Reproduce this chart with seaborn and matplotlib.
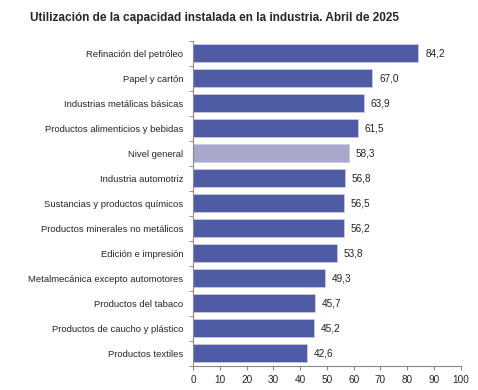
import matplotlib.pyplot as plt
import seaborn as sns
import numpy as np
import pandas as pd

categorias = ["Refinación del petróleo", "Papel y cartón", "Industrias metálicas básicas",
              "Productos alimenticios y bebidas", "Nivel general", "Industria automotriz",
              "Sustancias y productos químicos", "Productos minerales no metálicos",
              "Edición e impresión", "Metalmecánica excepto automotores",
              "Productos del tabaco", "Productos de caucho y plástico", "Productos textiles"]
valores = [84.2, 67.0, 63.9, 61.5, 58.3, 56.8, 56.5, 56.2, 53.8, 49.3, 45.7, 45.2, 42.6]

df = pd.DataFrame({"cat": categorias, "val": valores})
colores = ["#A7A8CB" if c == "Nivel general" else "#4F5BA5" for c in categorias]

sns.set_style("white")
plt.rcParams['font.family'] = ['Liberation Sans', 'DejaVu Sans']

fig = plt.figure(figsize=(4.78, 3.90), dpi=100)
ax = fig.add_axes([0.404, 0.062, 0.560, 0.833])
sns.barplot(data=df, x="val", y="cat", hue="cat", palette=colores, legend=False,
            saturation=1, width=0.72, edgecolor="#C8CADF", linewidth=0.6, ax=ax)

for i, v in enumerate(valores):
    ax.text(v + 2.5, i, f"{v:.1f}".replace(".", ","), va="center", ha="left", fontsize=7.2, color="#222222")

ax.set_xlim(0, 100)
ax.set_ylim(len(categorias) - 0.5, -0.5)
ax.set_xticks(np.arange(0, 101, 10))
ax.set_yticks(np.arange(-0.5, len(categorias), 1), minor=True)
ax.tick_params(axis="y", which="major", length=0, labelsize=6.8, pad=7)
ax.tick_params(axis="y", which="minor", length=3, color="#888888", left=True)
ax.tick_params(axis="x", length=3, color="#888888", labelsize=7.2, bottom=True)
ax.set_xlabel("")
ax.set_ylabel("")
for s in ["top", "right"]:
    ax.spines[s].set_visible(False)
for s in ["left", "bottom"]:
    ax.spines[s].set_color("#888888")
    ax.spines[s].set_linewidth(0.8)

fig.text(0.063, 0.955, "Utilización de la capacidad instalada en la industria. Abril de 2025",
         fontsize=8.5, fontweight="bold", ha="left", va="center")

plt.savefig("out.png", dpi=100)
